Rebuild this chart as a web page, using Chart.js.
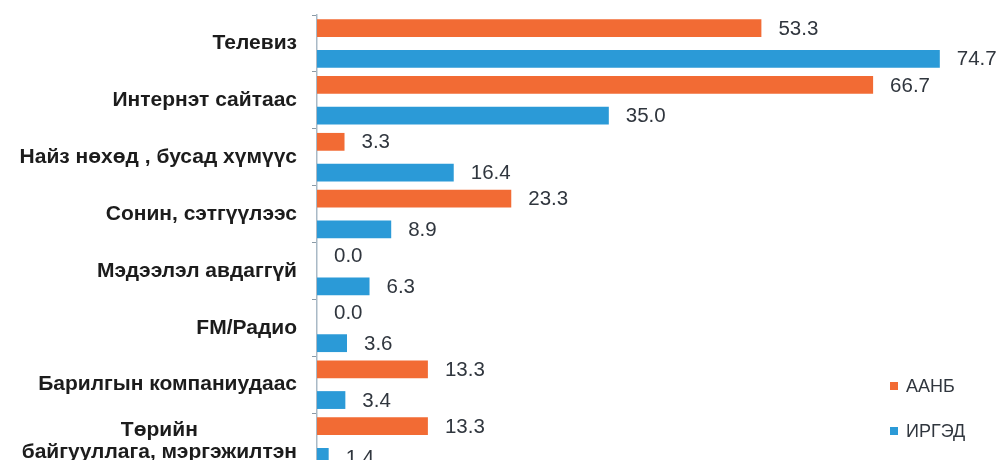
<!DOCTYPE html>
<html>
<head>
<meta charset="utf-8">
<script src="https://cdn.jsdelivr.net/npm/chart.js@4.4.1/dist/chart.umd.min.js"></script>
<style>
  html, body { margin: 0; padding: 0; background: #fff; overflow: hidden; }
  #wrap { width: 1000px; height: 470px; }
</style>
</head>
<body>
<div id="wrap"><canvas id="myBarChart" width="1000" height="470"></canvas></div>
<script>
const categories = [
	"Телевиз",
	"Интернэт сайтаас",
	"Найз нөхөд , бусад хүмүүс",
	"Сонин, сэтгүүлээс",
	"Мэдээлэл авдаггүй",
	"FM/Радио",
	"Барилгын компаниудаас",
	["Төрийн", "байгууллага, мэргэжилтэн"]
];
const seriesNames = ["ААНБ", "ИРГЭД"];
const aanbValues = [53.3, 66.7, 3.3, 23.3, 0.0, 0.0, 13.3, 13.3];
const irgedValues = [74.7, 35.0, 16.4, 8.9, 6.3, 3.6, 3.4, 1.4];

const colors = {
	orange: "#f26b34",
	blue: "#2b9ad7",
	text: "#1c1c1c",
	value: "#30363e",
	axis: "#a9b9c6"
};

const fontFamily = "'Liberation Sans', Arial, sans-serif";

// value labels right of each bar
const valueLabels = {
	id: 'valueLabels',
	afterDatasetsDraw(chart) {
		const ctx = chart.ctx;
		ctx.save();
		ctx.font = "20.5px " + fontFamily;
		ctx.fillStyle = colors.value;
		ctx.textAlign = "left";
		ctx.textBaseline = "middle";
		chart.data.datasets.forEach((ds, i) => {
			chart.getDatasetMeta(i).data.forEach((bar, j) => {
				ctx.fillText(ds.data[j].toFixed(1), bar.x + 17, bar.y + 1);
			});
		});
		ctx.restore();
	}
};

// category labels, multi-line ones centred on their widest line
const categoryLabels = {
	id: 'categoryLabels',
	afterDraw(chart) {
		const ctx = chart.ctx;
		const y = chart.scales.y;
		const right = y.right - 20;
		ctx.save();
		ctx.font = "bold 21px " + fontFamily;
		ctx.fillStyle = colors.text;
		ctx.textAlign = "center";
		ctx.textBaseline = "middle";
		categories.forEach((label, i) => {
			const lines = Array.isArray(label) ? label : [label];
			const w = Math.max(...lines.map(l => ctx.measureText(l).width));
			const cx = right - w / 2;
			const cy = y.getPixelForValue(i);
			const lh = 22;
			lines.forEach((l, k) => {
				ctx.fillText(l, cx, cy + (k - (lines.length - 1) / 2) * lh);
			});
		});
		ctx.restore();
	}
};

// small square legend, lower right
const squareLegend = {
	id: 'squareLegend',
	afterDraw(chart) {
		const ctx = chart.ctx;
		ctx.save();
		ctx.font = "18px " + fontFamily;
		ctx.textAlign = "left";
		ctx.textBaseline = "middle";
		chart.data.datasets.forEach((ds, i) => {
			const cy = 386 + i * 45;
			ctx.fillStyle = ds.backgroundColor;
			ctx.fillRect(890, cy - 4, 8, 8);
			ctx.fillStyle = colors.value;
			ctx.fillText(ds.label, 906, cy + 1);
		});
		ctx.restore();
	}
};

function setupBarChart() {
	Chart.defaults.font.family = fontFamily;
	Chart.defaults.font.size = 16;

	let ctx = document.getElementById("myBarChart").getContext('2d');

	new Chart(ctx, {
		type: "bar",
		data: {
			labels: categories,
			datasets: [{
				label: seriesNames[0],
				data: aanbValues,
				backgroundColor: colors.orange,
				categoryPercentage: 1.08,
				barPercentage: 0.58
			}, {
				label: seriesNames[1],
				data: irgedValues,
				backgroundColor: colors.blue,
				categoryPercentage: 1.08,
				barPercentage: 0.58
			}]
		},
		options: {
			indexAxis: 'y',
			responsive: false,
			animation: false,
			layout: {
				padding: { top: 15, right: 16, bottom: 0, left: 0 }
			},
			scales: {
				x: {
					display: false,
					min: 0,
					max: 80
				},
				y: {
					afterFit(scale) { scale.width = 317; },
					border: { display: true, color: colors.axis, width: 1.5 },
					grid: {
						drawOnChartArea: false,
						drawTicks: true,
						tickLength: 5,
						color: "#8a9aa6",
						offset: true
					},
					ticks: { display: false }
				}
			},
			plugins: {
				legend: { display: false },
				tooltip: { enabled: false }
			}
		},
		plugins: [valueLabels, categoryLabels, squareLegend]
	});
}

setupBarChart();
</script>
</body>
</html>
